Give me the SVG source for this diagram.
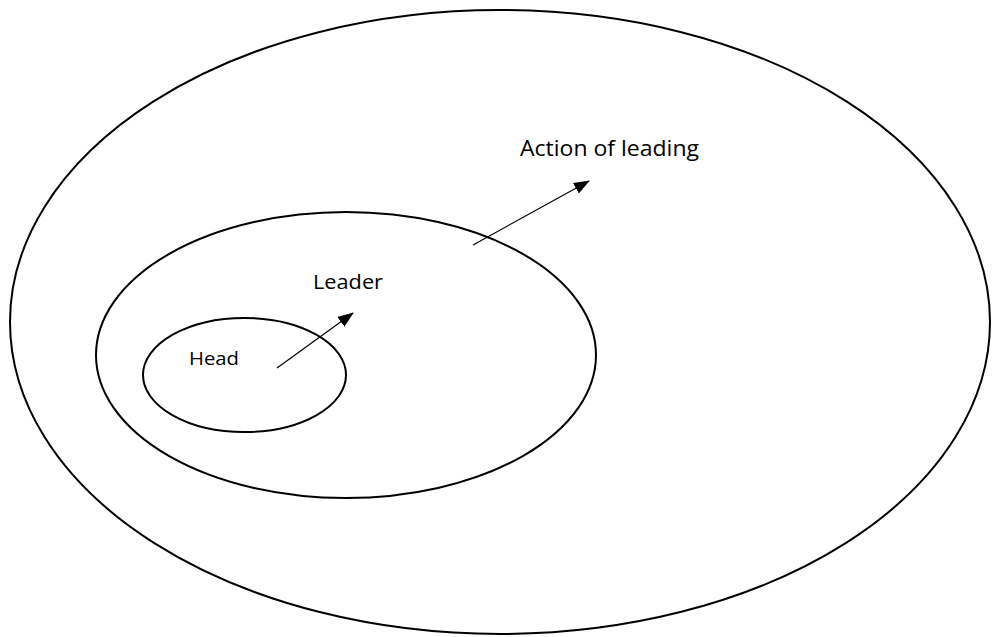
<svg xmlns="http://www.w3.org/2000/svg" width="992" height="637" viewBox="0 0 992 637">
<style>
.e{fill:none;stroke:#000;stroke-width:2}
.c{stroke:#000;stroke-width:1.2;fill:none}
.t{font-family:"Open Sans","Liberation Sans",sans-serif;fill:#000}
</style>
<defs>
<marker id="ah" markerUnits="userSpaceOnUse" markerWidth="16" markerHeight="12" refX="15" refY="6" orient="auto">
<path d="M0,0 L16,6 L0,12 Z" fill="#000"/>
</marker>
</defs>
<rect width="992" height="637" fill="#fff"/>
<g id="action">
<ellipse class="e" cx="500" cy="322" rx="490" ry="312"/>
<text class="t" x="520" y="156" font-size="22" textLength="179" lengthAdjust="spacingAndGlyphs">Action of leading</text>
</g>
<g id="leader">
<ellipse class="e" cx="346" cy="355" rx="250" ry="143"/>
<text class="t" x="313" y="289" font-size="20" textLength="70" lengthAdjust="spacingAndGlyphs">Leader</text>
</g>
<g id="head">
<ellipse class="e" cx="244.5" cy="375" rx="101.5" ry="57"/>
<text class="t" x="189" y="365" font-size="19" textLength="50" lengthAdjust="spacingAndGlyphs">Head</text>
</g>
<g id="connectors">
<line class="c" x1="277" y1="368" x2="353" y2="313" marker-end="url(#ah)"/>
<line class="c" x1="473" y1="245" x2="589" y2="181" marker-end="url(#ah)"/>
</g>
</svg>
